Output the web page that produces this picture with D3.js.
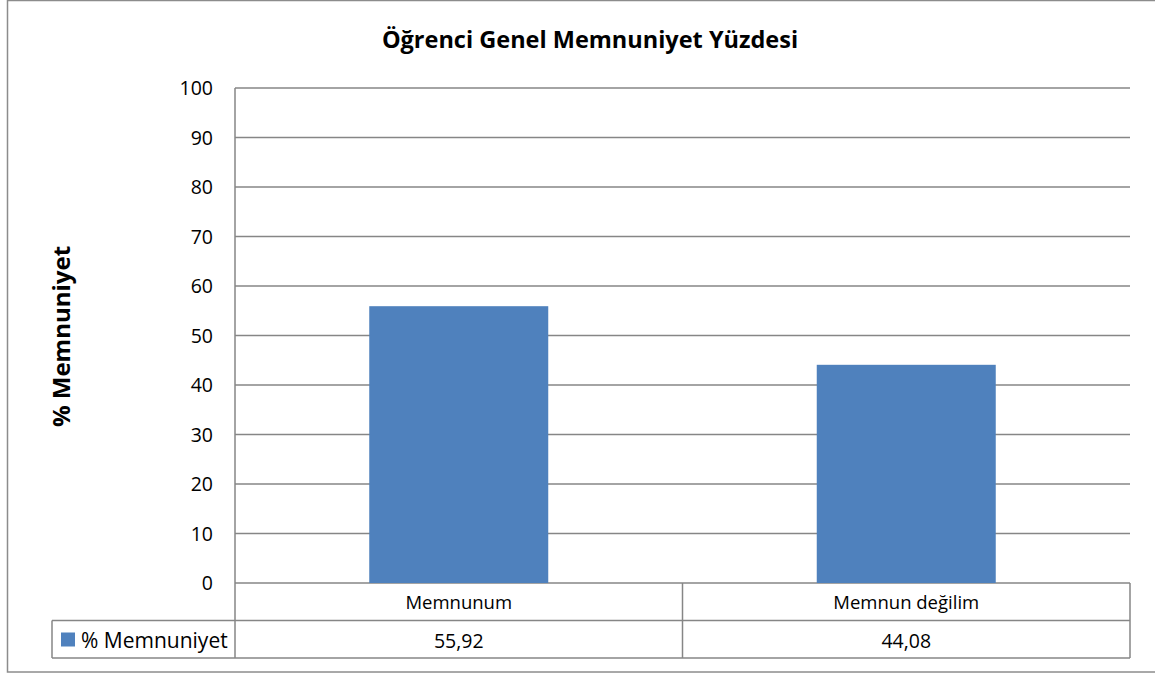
<!DOCTYPE html>
<html>
<head>
<meta charset="utf-8">
<script src="https://cdn.jsdelivr.net/npm/d3@7"></script>
<style>
  body { margin: 0; background: #fff; }
  text { font-family: "Open Sans", "DejaVu Sans", sans-serif; fill: #000; }
</style>
</head>
<body>
<svg id="svg" width="1155" height="675"></svg>
<script>
var categories = ["Memnunum", "Memnun değilim"];
var values = [55.92, 44.08];
var valueLabels = ["55,92", "44,08"];
var yTicks = [0, 10, 20, 30, 40, 50, 60, 70, 80, 90, 100];
var seriesName = "% Memnuniyet";
var chartTitle = "Öğrenci Genel Memnuniyet Yüzdesi";

var plotLeft = 235, plotRight = 1130, plotTop = 88, plotBottom = 583;
var rowH = 37.5;
var legendLeft = 52;
var gridColor = "#868686";
var barColor = "#4F81BD";

var svg = d3.select("#svg");

// outer frame
svg.append("rect")
  .attr("x", 7.5).attr("y", 0.5)
  .attr("width", 1160).attr("height", 671.5)
  .attr("fill", "none").attr("stroke", "#8c8c8c").attr("stroke-width", 1.5);

var x = d3.scaleBand().domain(categories).range([plotLeft, plotRight]).paddingInner(0.6).paddingOuter(0.3);
var xCell = d3.scaleBand().domain(categories).range([plotLeft, plotRight]);
var y = d3.scaleLinear().domain([0, 100]).range([plotBottom, plotTop]);

// gridlines
svg.append("g").selectAll("line").data(yTicks).enter().append("line")
  .attr("x1", plotLeft).attr("x2", plotRight)
  .attr("y1", function(d){ return y(d); })
  .attr("y2", function(d){ return y(d); })
  .attr("stroke", gridColor).attr("stroke-width", 1.5);

// tick labels
svg.append("g").selectAll("text").data(yTicks).enter().append("text")
  .attr("x", plotLeft - 22)
  .attr("y", function(d){ return y(d) + 7; })
  .attr("text-anchor", "end")
  .attr("font-size", 19.5)
  .text(function(d){ return d; });

// bars
svg.append("g").selectAll("rect").data(values).enter().append("rect")
  .attr("x", function(d, i){ return x(categories[i]); })
  .attr("y", function(d){ return y(d); })
  .attr("width", x.bandwidth())
  .attr("height", function(d){ return y(0) - y(d); })
  .attr("fill", barColor);

// data table lines
var t = svg.append("g").attr("stroke", gridColor).attr("stroke-width", 1.5);
t.append("line").attr("x1", plotLeft).attr("x2", plotLeft).attr("y1", plotTop).attr("y2", plotBottom + 2 * rowH);
t.append("line").attr("x1", legendLeft).attr("x2", plotRight).attr("y1", plotBottom + rowH).attr("y2", plotBottom + rowH);
t.append("line").attr("x1", legendLeft).attr("x2", plotRight).attr("y1", plotBottom + 2 * rowH).attr("y2", plotBottom + 2 * rowH);
t.append("line").attr("x1", legendLeft).attr("x2", legendLeft).attr("y1", plotBottom + rowH).attr("y2", plotBottom + 2 * rowH);
t.selectAll(".v").data(categories).enter().append("line")
  .attr("x1", function(d){ return xCell(d) + xCell.bandwidth(); })
  .attr("x2", function(d){ return xCell(d) + xCell.bandwidth(); })
  .attr("y1", plotBottom).attr("y2", plotBottom + 2 * rowH);

// category labels
svg.append("g").selectAll("text").data(categories).enter().append("text")
  .attr("x", function(d){ return xCell(d) + xCell.bandwidth() / 2; })
  .attr("y", plotBottom + 26)
  .attr("text-anchor", "middle").attr("font-size", 18.5)
  .text(function(d){ return d; });

// value labels
svg.append("g").selectAll("text").data(valueLabels).enter().append("text")
  .attr("x", function(d, i){ return xCell(categories[i]) + xCell.bandwidth() / 2; })
  .attr("y", plotBottom + rowH + 27)
  .attr("text-anchor", "middle").attr("font-size", 19.5)
  .text(function(d){ return d; });

// legend
svg.append("rect").attr("x", 61).attr("y", plotBottom + rowH + 12)
  .attr("width", 14).attr("height", 14).attr("fill", barColor);
svg.append("text").attr("x", 81).attr("y", plotBottom + rowH + 27)
  .attr("font-size", 21).text(seriesName);

// title
svg.append("text").attr("x", 590).attr("y", 48)
  .attr("text-anchor", "middle").attr("font-size", 23.5).attr("font-weight", "bold")
  .text(chartTitle);

// y axis title
svg.append("text")
  .attr("transform", "translate(70," + ((plotTop + plotBottom) / 2 + 1) + ") rotate(-90)")
  .attr("text-anchor", "middle").attr("font-size", 24).attr("font-weight", "bold")
  .text(seriesName);
</script>
</body>
</html>
